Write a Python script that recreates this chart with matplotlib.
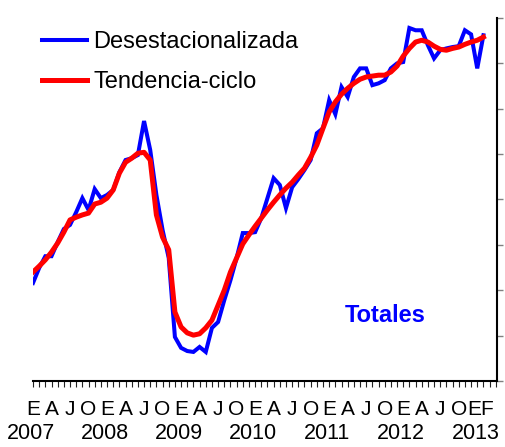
import numpy as np
import matplotlib
matplotlib.use("Agg")
import matplotlib.pyplot as plt
from matplotlib.ticker import MultipleLocator, FixedLocator
import matplotlib.transforms as mtransforms

plt.rcParams['font.family'] = ['Liberation Sans', 'DejaVu Sans']

# monthly series, Jan 2007 - Feb 2013 (index scale)
desestacionalizada = [
    21.6, 24.9, 27.5, 27.5, 30.6, 33.5, 34.4, 37.2, 40.3, 37.7, 42.3, 40.3,
    41.0, 42.1, 46.0, 48.7, 49.1, 49.8, 57.3, 50.9, 41.0, 33.3, 27.1, 9.7,
    7.3, 6.6, 6.4, 7.5, 6.4, 11.7, 13.0, 17.8, 22.2, 27.1, 32.6, 32.6,
    32.8, 35.9, 40.3, 44.7, 43.2, 38.1, 42.7, 44.5, 46.5, 48.7, 54.6, 55.7,
    61.9, 58.8, 64.8, 62.6, 67.0, 68.9, 68.9, 65.2, 65.6, 66.3, 68.9, 70.0,
    70.3, 77.8, 77.3, 77.3, 74.0, 71.1, 72.9, 73.3, 73.6, 73.8, 77.3, 76.4,
    68.9, 76.2,
]
tendencia_ciclo = [
    24.0, 25.3, 26.7, 28.4, 30.4, 32.8, 35.5, 36.1, 36.6, 37.0, 39.0, 39.4,
    40.3, 42.1, 45.8, 48.2, 49.1, 50.2, 50.4, 48.7, 36.6, 31.7, 28.9, 15.2,
    11.9, 10.6, 10.1, 10.4, 11.7, 13.4, 16.7, 20.0, 24.0, 27.1, 30.2, 32.2,
    34.1, 35.9, 37.7, 39.4, 41.0, 42.5, 43.8, 45.4, 46.9, 49.3, 52.0, 55.7,
    59.3, 61.5, 63.2, 64.5, 65.6, 66.5, 67.0, 67.2, 67.4, 67.4, 68.1, 69.4,
    71.6, 73.3, 74.7, 75.1, 74.7, 73.8, 73.1, 72.9, 73.3, 73.6, 74.2, 74.7,
    75.1, 75.8,
]
quarter_labels = ["E", "A", "J", "O"]
years = ["2007", "2008", "2009", "2010", "2011", "2012", "2013"]
last_label = "EF"

months = np.arange(len(desestacionalizada))

fig = plt.figure(figsize=(5.06, 4.47), dpi=100)
ax = fig.add_axes([0.0652, 0.1477, 0.917, 0.812])

ax.plot(months, desestacionalizada, color="#0000ff", lw=2.9,
        label="Desestacionalizada", solid_joinstyle="miter")
ax.plot(months, tendencia_ciclo, color="#ff0000", lw=3.6,
        label="Tendencia-ciclo")

ax.set_xlim(0, 75.2)
ax.set_ylim(0, 80)

# x axis: monthly ticks, quarter letters, years below
ax.xaxis.remove_overlapping_locs = False
ax.xaxis.set_minor_locator(MultipleLocator(1))
qpos = list(range(0, 72, 3)) + [72.6]
qlab = [quarter_labels[(i // 3) % 4] for i in range(0, 72, 3)] + [last_label]
ax.xaxis.set_major_locator(FixedLocator(qpos))
ax.set_xticklabels(qlab, fontsize=15)
ax.tick_params(axis="x", which="major", length=0, pad=14)
ax.tick_params(axis="x", which="minor", length=4.3, width=0.8, color="#222222")

trans = mtransforms.blended_transform_factory(ax.transData, ax.transAxes)
for i, y in enumerate(years):
    ax.text(12 * i - 0.3, -0.146, y, transform=trans, ha="center",
            va="center", fontsize=15.5)

# y axis: right side, unlabeled ticks
ax.yaxis.tick_right()
ax.yaxis.set_major_locator(MultipleLocator(10))
ax.tick_params(axis="y", direction="out", length=4.5, width=1,
               color="#808080", labelright=False)

ax.spines["left"].set_visible(False)
ax.spines["top"].set_visible(False)
ax.spines["right"].set_linewidth(1.5)
ax.spines["bottom"].set_linewidth(1.5)

ax.legend(loc="upper left", bbox_to_anchor=(0.0, 0.99), frameon=False,
          fontsize=17, handlelength=1.9, handletextpad=0.25,
          labelspacing=0.75, borderaxespad=0.0)

ax.text(0.76, 0.18, "Totales", transform=ax.transAxes, ha="center",
        va="center", fontsize=17, fontweight="bold", color="#0000ff")

fig.savefig("out.png", dpi=100)
